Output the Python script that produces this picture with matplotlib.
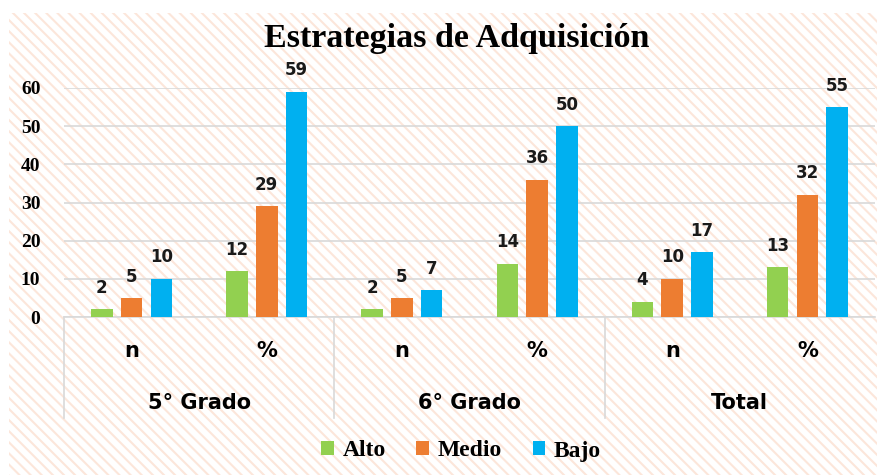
import matplotlib.pyplot as plt
from matplotlib.patches import Rectangle
import numpy as np

# data
groups = ['5° Grado', '6° Grado', 'Total']
subcats = ['n', '%', 'n', '%', 'n', '%']
alto = [2, 12, 2, 14, 4, 13]
medio = [5, 29, 5, 36, 10, 32]
bajo = [10, 59, 7, 50, 17, 55]
series = {'Alto': alto, 'Medio': medio, 'Bajo': bajo}
colors = {'Alto': '#92D050', 'Medio': '#ED7D31', 'Bajo': '#00B0F0'}

plt.rcParams['hatch.linewidth'] = 1.5
plt.rcParams['hatch.color'] = '#FCE6DA'

fig = plt.figure(figsize=(8.77, 4.75), dpi=100)
W, H = 877, 475

# hatched chart background
bg = Rectangle((9 / W, 0), 1 - 9 / W, 1 - 13 / H, transform=fig.transFigure,
               facecolor='white', edgecolor='#FCE6DA', hatch='\\\\\\', lw=0, zorder=-5)
fig.patches.append(bg)

ax = fig.add_axes([64 / W, 158 / H, (875 - 64) / W, (317 - 88) / H])
ax.set_facecolor('none')
ax.set_zorder(2)

x = np.arange(len(subcats))
bw = 0.16
step = 0.22
for i, (name, vals) in enumerate(series.items()):
    pos = x + (i - 1) * step
    bars = ax.bar(pos, vals, bw, color=colors[name], label=name, zorder=3)
    for b, v in zip(bars, vals):
        ax.text(b.get_x() + b.get_width() / 2, v + 5.6, str(v), ha='center', va='center',
                fontsize=12, fontweight='bold', color='#1a1a1a', family='DejaVu Sans',
                clip_on=False)

ax.set_xlim(-0.5, len(subcats) - 0.5)
ax.set_ylim(0, 60)
ax.set_yticks(range(0, 61, 10))
ax.yaxis.grid(True, color='#D9D9D9', lw=1.2, zorder=0)
ax.set_axisbelow(True)
for s in ['top', 'right', 'left']:
    ax.spines[s].set_visible(False)
ax.spines['bottom'].set_color('#D9D9D9')
ax.spines['bottom'].set_linewidth(1.2)
ax.tick_params(axis='y', length=0, pad=17)
ax.tick_params(axis='x', length=0)
for lab in ax.get_yticklabels():
    lab.set_family('Liberation Serif')
    lab.set_fontweight('bold')
    lab.set_fontsize(14)
ax.set_xticks([])

# multi-level category labels
for xi, s in zip(x, subcats):
    ax.text(xi, -9, s, ha='center', va='center', fontsize=15, fontweight='bold',
            family='DejaVu Sans', clip_on=False)
for gi, g in enumerate(groups):
    ax.text(gi * 2 + 0.5, -22.5, g, ha='center', va='center', fontsize=15, fontweight='bold',
            family='DejaVu Sans', clip_on=False)
for sep in [-0.5, 1.5, 3.5]:
    ax.plot([sep, sep], [0, -26.5], color='#D9D9D9', lw=1.2, clip_on=False)

fig.text(457 / W, 1 - 38 / H, 'Estrategias de Adquisición', ha='center', va='center',
         fontsize=24.5, fontweight='bold', family='Liberation Serif')

leg = fig.legend(loc='center', bbox_to_anchor=(461 / W, 1 - 451 / H), ncol=3, frameon=False,
                 prop={'family': 'Liberation Serif', 'weight': 'bold', 'size': 17},
                 handlelength=0.55, handleheight=0.55, handletextpad=0.35, columnspacing=1.3)

fig.savefig('out.png', dpi=100)
